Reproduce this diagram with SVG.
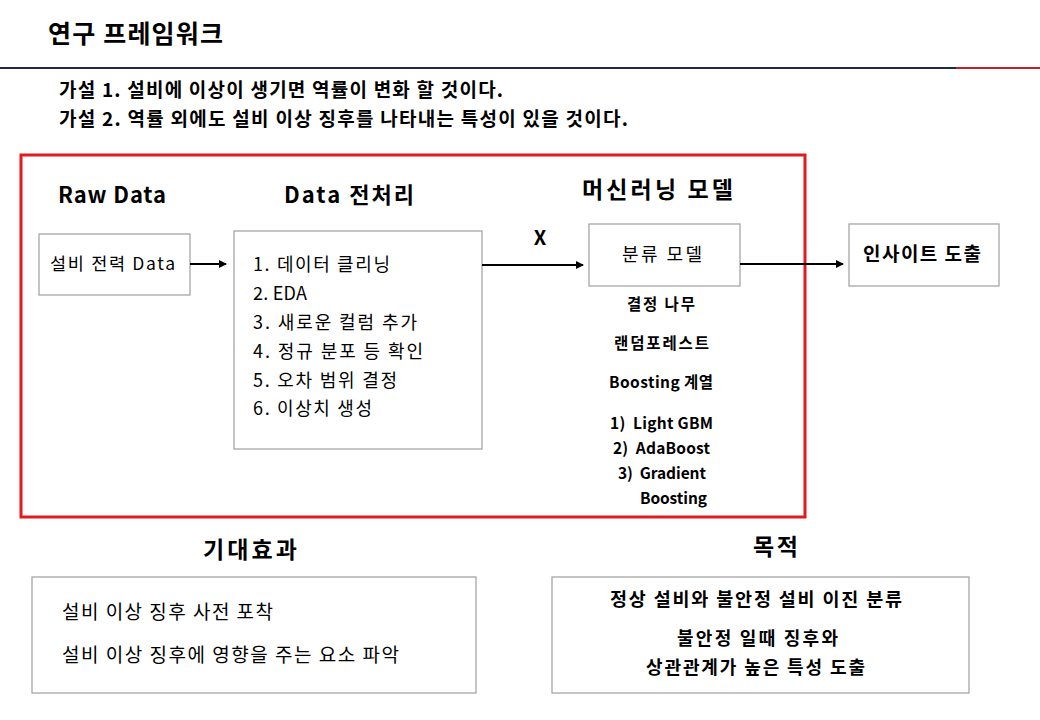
<svg xmlns="http://www.w3.org/2000/svg" width="1040" height="720" viewBox="0 0 1040 720">
<style>
text{font-family:"Noto Sans CJK KR","Noto Sans",sans-serif;fill:#000}
.b{font-weight:bold}
.box{fill:#fff;stroke:#a6a6a6;stroke-width:1.3}
.h{font-size:22px;font-weight:bold}
.li{font-size:18px}
.m{font-size:15.5px;font-weight:bold}
.con{stroke:#000;stroke-width:2;fill:none}
</style>
<defs>
<marker id="ah" markerWidth="8" markerHeight="8" refX="7" refY="4" orient="auto" markerUnits="userSpaceOnUse">
<path d="M0,0 L8,4 L0,8 z" fill="#000"/>
</marker>
</defs>
<rect width="1040" height="720" fill="#fff"/>
<g id="header">
<text x="48" y="43" class="b" font-size="25" textLength="175">연구 프레임워크</text>
<rect x="0" y="67" width="956" height="2" fill="#1f2a4a"/>
<rect x="956" y="67" width="84" height="2" fill="#c0202a"/>
<text x="59" y="97" class="b" font-size="19" textLength="444">가설 1. 설비에 이상이 생기면 역률이 변화 할 것이다.</text>
<text x="59" y="126" class="b" font-size="19" textLength="569">가설 2. 역률 외에도 설비 이상 징후를 나타내는 특성이 있을 것이다.</text>
</g>
<g id="frame">
<rect x="21" y="155" width="784" height="362" fill="none" stroke="#e01b1b" stroke-width="3"/>
</g>
<g id="titles">
<text x="58" y="203" class="h" textLength="108">Raw Data</text>
<text x="284" y="203" class="h" textLength="130">Data 전처리</text>
<text x="582" y="198" class="b" font-size="23" textLength="151">머신러닝 모델</text>
<text x="540" y="245" class="b" font-size="20" text-anchor="middle">X</text>
</g>
<g id="raw">
<rect x="39" y="234" width="151" height="61" class="box"/>
<text x="50" y="270" font-size="17.5" textLength="125">설비 전력 Data</text>
</g>
<g id="prep">
<rect x="234" y="231" width="248" height="218" class="box"/>
<text x="253" y="271" class="li" textLength="137">1. 데이터 클리닝</text>
<text x="253" y="300" class="li" textLength="54">2. EDA</text>
<text x="253" y="329" class="li" textLength="164">3. 새로운 컬럼 추가</text>
<text x="253" y="358" class="li" textLength="170">4. 정규 분포 등 확인</text>
<text x="253" y="387" class="li" textLength="144">5. 오차 범위 결정</text>
<text x="253" y="415" class="li" textLength="119">6. 이상치 생성</text>
</g>
<g id="model">
<rect x="589" y="224" width="151" height="62" class="box"/>
<text x="622" y="261" font-size="18" textLength="80">분류 모델</text>
<text x="627" y="310" class="m" textLength="68">결정 나무</text>
<text x="614" y="349" class="m" textLength="95">랜덤포레스트</text>
<text x="609" y="388" class="m" textLength="104">Boosting 계열</text>
<text x="610" y="429" class="m" textLength="103">1)&#160; Light GBM</text>
<text x="613" y="454" class="m" textLength="97">2)&#160; AdaBoost</text>
<text x="618" y="479" class="m" textLength="88">3)&#160; Gradient</text>
<text x="640" y="504" class="m" textLength="67">Boosting</text>
</g>
<g id="insight">
<rect x="849" y="224" width="150" height="62" class="box"/>
<text x="863" y="261" class="b" font-size="19" textLength="118">인사이트 도출</text>
</g>
<g id="connectors">
<line x1="190" y1="264" x2="226" y2="264" class="con" marker-end="url(#ah)"/>
<line x1="482" y1="265" x2="583" y2="265" class="con" marker-end="url(#ah)"/>
<line x1="740" y1="264" x2="843" y2="264" class="con" marker-end="url(#ah)"/>
</g>
<g id="effect">
<text x="203" y="558" class="b" font-size="23" textLength="94">기대효과</text>
<rect x="32" y="577" width="444" height="116" class="box"/>
<text x="62" y="619" font-size="19" textLength="211">설비 이상 징후 사전 포착</text>
<text x="62" y="662" font-size="19" textLength="337">설비 이상 징후에 영향을 주는 요소 파악</text>
</g>
<g id="goal">
<text x="753" y="555" class="b" font-size="23" textLength="45">목적</text>
<rect x="552" y="577" width="417" height="116" class="box"/>
<text x="610" y="606" class="b" font-size="18.5" textLength="292">정상 설비와 불안정 설비 이진 분류</text>
<text x="677" y="645" class="b" font-size="18" textLength="161">불안정 일때 징후와</text>
<text x="646" y="674" class="b" font-size="18" textLength="219">상관관계가 높은 특성 도출</text>
</g>
</svg>
